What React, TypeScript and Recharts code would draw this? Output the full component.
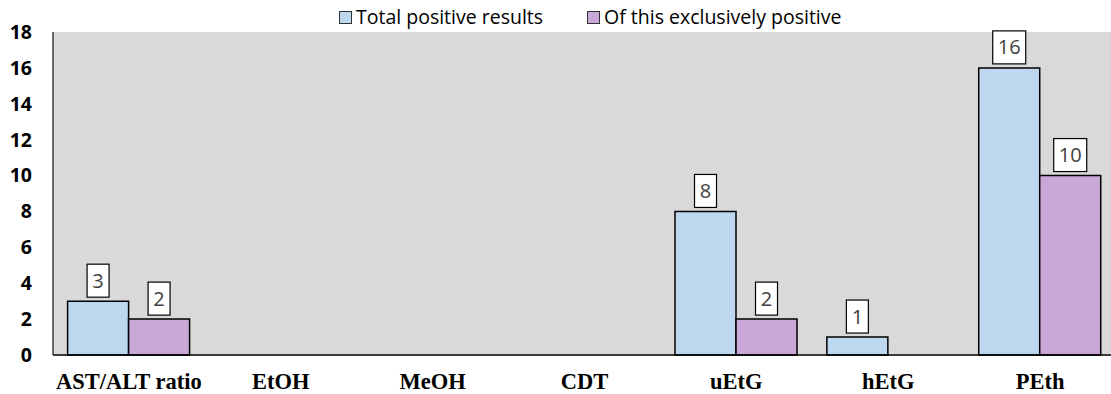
import React from "react";
import { BarChart, Bar, XAxis, YAxis, CartesianGrid, LabelList } from "recharts";

const categories = ["AST/ALT ratio", "EtOH", "MeOH", "CDT", "uEtG", "hEtG", "PEth"];
const totalPositive = [3, 0, 0, 0, 8, 1, 16];
const exclusivelyPositive = [2, 0, 0, 0, 2, 0, 10];
const yTicks = [0, 2, 4, 6, 8, 10, 12, 14, 16, 18];

const seriesNames = ["Total positive results", "Of this exclusively positive"];
const seriesColors = ["#bdd7ee", "#c9a8d8"];

const data = categories.map((name, i) => ({
  name,
  total: totalPositive[i],
  exclusive: exclusivelyPositive[i],
}));

// the plot runs slightly past the right edge of the visible frame
const W = 1111;
const CHART_W = 1116;
const H = 394;

// boxed value label sitting just above each bar
function BoxLabel(props: any) {
  const { x, y, width, value } = props;
  if (!value) return null;
  const text = String(value);
  const bw = text.length > 1 ? 33 : 22;
  const bh = 33;
  const cx = x + width / 2;
  const top = y - 4 - bh;
  return (
    <g>
      <rect x={cx - bw / 2} y={top} width={bw} height={bh} fill="#fff" stroke="#000" strokeWidth={1.2} />
      <text
        x={cx}
        y={top + bh / 2 + 7}
        textAnchor="middle"
        fontSize={20}
        fontFamily="'Open Sans', sans-serif"
        fill="#404040"
      >
        {text}
      </text>
    </g>
  );
}

const legendLeft = [339, 587];

function LegendRow() {
  return (
    <>
      {seriesNames.map((n, i) => (
        <div
          key={n}
          style={{
            position: "absolute",
            top: 4,
            left: legendLeft[i],
            display: "flex",
            alignItems: "center",
            fontFamily: "'Open Sans', sans-serif",
            fontSize: 19.5,
            lineHeight: "26px",
            color: "#000",
            whiteSpace: "nowrap",
          }}
        >
          <span
            style={{
              width: 11,
              height: 11,
              background: seriesColors[i],
              border: "1px solid #333",
              marginRight: 4,
              display: "inline-block",
            }}
          />
          <span>{n}</span>
        </div>
      ))}
    </>
  );
}

export default function App() {
  return (
    <div
      style={{
        position: "absolute",
        left: 0,
        top: 0,
        width: W,
        height: H,
        overflow: "hidden",
        background: "#fff",
      }}
    >
      <BarChart
        width={CHART_W}
        height={H}
        data={data}
        margin={{ top: 32, right: 0, bottom: 0, left: 0 }}
        barCategoryGap="9.6%"
        barGap={0}
      >
        <CartesianGrid horizontal={false} vertical={false} fill="#d9d9d9" />
        <XAxis
          xAxisId="top"
          orientation="top"
          dataKey="name"
          tick={false}
          tickLine={false}
          height={0}
          axisLine={{ stroke: "#222", strokeWidth: 1.3 }}
        />
        <XAxis
          dataKey="name"
          height={39}
          tickLine={false}
          tickMargin={12}
          axisLine={{ stroke: "#000", strokeWidth: 1.5 }}
          tick={{
            fill: "#000",
            fontSize: 22.5,
            fontWeight: 700,
            fontFamily: "'Liberation Serif', 'Times New Roman', serif",
          }}
          interval={0}
        />
        <YAxis
          width={53}
          domain={[0, 18]}
          ticks={yTicks}
          tickLine={false}
          tickSize={0}
          tickMargin={21}
          axisLine={{ stroke: "#222", strokeWidth: 1.3 }}
          tick={{
            fill: "#000",
            fontSize: 19.5,
            fontWeight: 700,
            fontFamily: "'Open Sans', sans-serif",
          }}
        />
        <Bar
          dataKey="total"
          name={seriesNames[0]}
          fill={seriesColors[0]}
          stroke="#000"
          strokeWidth={1.5}
          isAnimationActive={false}
        >
          <LabelList dataKey="total" content={<BoxLabel />} />
        </Bar>
        <Bar
          dataKey="exclusive"
          name={seriesNames[1]}
          fill={seriesColors[1]}
          stroke="#000"
          strokeWidth={1.5}
          isAnimationActive={false}
        >
          <LabelList dataKey="exclusive" content={<BoxLabel />} />
        </Bar>
      </BarChart>
      <LegendRow />
    </div>
  );
}
